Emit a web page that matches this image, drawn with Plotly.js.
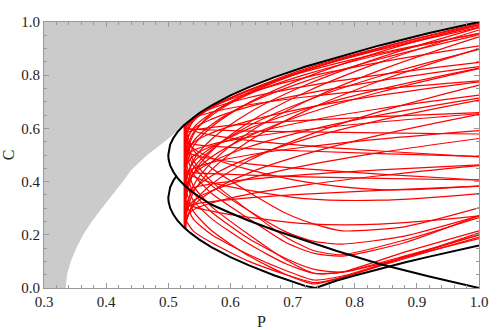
<!DOCTYPE html>
<html>
<head>
<meta charset="utf-8">
<script src="https://cdn.plot.ly/plotly-3.0.1.min.js"></script>
<style>
  body { margin: 0; background: #fff; }
  #myDiv { width: 500px; height: 330px; }
</style>
</head>
<body>
<div id="myDiv"></div>
<script>
var pGrid = [0.527, 0.54, 0.57, 0.63, 0.72, 0.84, 1.0];

// red curves, C value at each pGrid point
var redUpper = [
  [0.500, 0.582, 0.649, 0.731, 0.816, 0.902, 0.995],
  [0.440, 0.531, 0.606, 0.697, 0.791, 0.887, 0.990],
  [0.380, 0.479, 0.560, 0.659, 0.762, 0.866, 0.979],
  [0.320, 0.428, 0.516, 0.623, 0.735, 0.848, 0.970],
  [0.560, 0.626, 0.679, 0.745, 0.813, 0.882, 0.956],
  [0.270, 0.382, 0.473, 0.585, 0.700, 0.818, 0.944],
  [0.530, 0.601, 0.658, 0.729, 0.802, 0.877, 0.957],
  [0.470, 0.550, 0.615, 0.695, 0.777, 0.861, 0.952],
  [0.560, 0.630, 0.680, 0.744, 0.824, 0.903, 0.990],
  [0.600, 0.636, 0.681, 0.742, 0.818, 0.895, 0.980],
  [0.450, 0.575, 0.656, 0.736, 0.818, 0.898, 0.985]
];
var redRising = [
  [0.600, 0.641, 0.675, 0.716, 0.758, 0.801, 0.848],
  [0.580, 0.635, 0.679, 0.734, 0.791, 0.848, 0.910],
  [0.250, 0.358, 0.446, 0.553, 0.665, 0.778, 0.900],
  [0.360, 0.449, 0.521, 0.610, 0.702, 0.796, 0.897],
  [0.550, 0.597, 0.635, 0.682, 0.730, 0.779, 0.832],
  [0.350, 0.429, 0.493, 0.571, 0.653, 0.736, 0.825],
  [0.400, 0.471, 0.528, 0.599, 0.672, 0.747, 0.827],
  [0.610, 0.638, 0.661, 0.689, 0.718, 0.748, 0.779],
  [0.230, 0.318, 0.390, 0.479, 0.570, 0.663, 0.763],
  [0.500, 0.546, 0.583, 0.628, 0.676, 0.724, 0.775],
  [0.450, 0.496, 0.533, 0.578, 0.626, 0.674, 0.725],
  [0.300, 0.367, 0.422, 0.489, 0.559, 0.630, 0.706],
  [0.370, 0.427, 0.474, 0.531, 0.590, 0.650, 0.714],
  [0.580, 0.593, 0.604, 0.617, 0.630, 0.644, 0.659],
  [0.240, 0.308, 0.364, 0.433, 0.503, 0.575, 0.653],
  [0.490, 0.517, 0.540, 0.567, 0.595, 0.624, 0.655],
  [0.420, 0.449, 0.472, 0.500, 0.530, 0.560, 0.592],
  [0.280, 0.327, 0.365, 0.412, 0.460, 0.509, 0.562],
  [0.260, 0.293, 0.320, 0.353, 0.387, 0.422, 0.460],
  [0.360, 0.377, 0.391, 0.408, 0.426, 0.444, 0.463],
  [0.300, 0.314, 0.325, 0.339, 0.353, 0.367, 0.383]
];
var redFalling = [
  [0.600, 0.597, 0.594, 0.590, 0.587, 0.583, 0.579],
  [0.610, 0.591, 0.575, 0.555, 0.535, 0.515, 0.493],
  [0.550, 0.541, 0.533, 0.524, 0.515, 0.505, 0.495],
  [0.520, 0.501, 0.486, 0.467, 0.448, 0.428, 0.406],
  [0.440, 0.434, 0.430, 0.424, 0.418, 0.412, 0.406],
  [0.570, 0.526, 0.489, 0.445, 0.399, 0.370, 0.383],
  [0.450, 0.420, 0.396, 0.367, 0.336, 0.330, 0.355],
  [0.330, 0.307, 0.289, 0.266, 0.242, 0.240, 0.271]
];

// curves that run down towards the bottom corner and come back up
var bounceGrid = [0.527, 0.54, 0.57, 0.63, 0.69, 0.735, 0.78, 0.88, 1.0];
var redBounce = [
  [0.380, 0.290, 0.215, 0.120, 0.050, 0.015, 0.040, 0.110, 0.191],
  [0.450, 0.360, 0.285, 0.185, 0.110, 0.070, 0.060, 0.115, 0.207],
  [0.330, 0.260, 0.200, 0.125, 0.065, 0.030, 0.045, 0.115, 0.186],
  [0.520, 0.430, 0.355, 0.260, 0.170, 0.130, 0.120, 0.170, 0.272],
  [0.600, 0.520, 0.450, 0.360, 0.280, 0.240, 0.215, 0.230, 0.301],
  [0.260, 0.215, 0.170, 0.100, 0.050, 0.020, 0.040, 0.115, 0.200],
  [0.580, 0.480, 0.400, 0.290, 0.190, 0.140, 0.125, 0.180, 0.265],
  [0.550, 0.460, 0.385, 0.290, 0.210, 0.175, 0.165, 0.195, 0.271],
  [0.490, 0.385, 0.305, 0.200, 0.105, 0.055, 0.060, 0.135, 0.215],
  [0.410, 0.330, 0.260, 0.165, 0.090, 0.055, 0.060, 0.120, 0.200]
];

// red bundle at the left edge of the curves
var edgeP = [0.527, 0.527];
var edgeC = [0.224, 0.616];

// outer black curve
var outerP = [1.0, 0.92, 0.84, 0.77, 0.72, 0.67, 0.63, 0.6, 0.57, 0.55, 0.535, 0.525, 0.515,
              0.508, 0.503, 0.5005, 0.5, 0.5005, 0.503, 0.508, 0.515, 0.525, 0.535, 0.55,
              0.57, 0.6, 0.63, 0.67, 0.72, 0.77, 0.84, 0.92, 1.0];
var outerC = [1.0, 0.959, 0.912, 0.867, 0.832, 0.792, 0.755, 0.724, 0.687, 0.658, 0.632, 0.612, 0.587,
              0.563, 0.539, 0.516, 0.5, 0.484, 0.461, 0.437, 0.413, 0.388, 0.368, 0.342,
              0.313, 0.282, 0.253, 0.218, 0.178, 0.140, 0.090, 0.043, 0.0];

// inner black curve
var innerP = [0.513, 0.508, 0.503, 0.5005, 0.5, 0.5005, 0.503, 0.508, 0.515, 0.525, 0.535, 0.55,
              0.57, 0.6, 0.63, 0.67, 0.7, 0.72, 0.737, 0.77, 0.8, 0.84, 0.88, 0.92, 0.96, 1.0];
var innerC = [0.421, 0.403, 0.379, 0.356, 0.34, 0.324, 0.301, 0.277, 0.253, 0.228, 0.208, 0.182,
              0.153, 0.116, 0.085, 0.048, 0.024, 0.008, 0.0, 0.027, 0.047, 0.072, 0.096, 0.118, 0.14, 0.16];

// grey region boundary
var greyP = [0.3, 0.3, 0.335, 0.337, 0.343, 0.352, 0.363, 0.377, 0.393, 0.41, 0.427, 0.44,
             0.466, 0.494, 0.525, 0.535, 0.55, 0.57, 0.6, 0.63, 0.67, 0.72, 0.77, 0.84, 0.92, 1.0];
var greyC = [1.0, 0.0, 0.0, 0.05, 0.1, 0.15, 0.2, 0.25, 0.3, 0.35, 0.4, 0.443,
             0.5, 0.55, 0.612, 0.632, 0.658, 0.687, 0.724, 0.755, 0.792, 0.832, 0.867, 0.912, 0.959, 1.0];

var data = [];
data.push({
  x: greyP, y: greyC, type: 'scatter', mode: 'lines',
  fill: 'toself', fillcolor: '#cbcbcb', line: {width: 0}
});
data.push({
  x: edgeP, y: edgeC, type: 'scatter', mode: 'lines',
  line: {color: '#ff0000', width: 3}
});

var groups = [redUpper, redRising, redFalling];
for (var g = 0; g < groups.length; g++) {
  for (var i = 0; i < groups[g].length; i++) {
    data.push({
      x: pGrid, y: groups[g][i], type: 'scatter', mode: 'lines',
      line: {color: '#ff0000', width: 1.2, shape: 'spline', smoothing: 1}
    });
  }
}
for (var j = 0; j < redBounce.length; j++) {
  data.push({
    x: bounceGrid, y: redBounce[j], type: 'scatter', mode: 'lines',
    line: {color: '#ff0000', width: 1.2, shape: 'spline', smoothing: 0.6}
  });
}

data.push({
  x: outerP, y: outerC, type: 'scatter', mode: 'lines',
  line: {color: '#000', width: 2}
});
data.push({
  x: innerP, y: innerC, type: 'scatter', mode: 'lines',
  line: {color: '#000', width: 2}
});

var serif = 'Liberation Serif, Times New Roman, serif';

var axisCommon = {
  showgrid: false, zeroline: false,
  showline: true, linecolor: '#999', linewidth: 1, mirror: 'ticks',
  ticks: 'inside', ticklen: 5, tickcolor: '#999', tickwidth: 1,
  tickformat: '.1f',
  tickfont: {family: serif, size: 15, color: '#222'}
};

var layout = {
  width: 500, height: 330,
  font: {family: serif, size: 15, color: '#222'},
  showlegend: false,
  hovermode: false,
  paper_bgcolor: '#fff',
  plot_bgcolor: '#fff',
  margin: {l: 44, r: 21, t: 22, b: 42, pad: 0},
  xaxis: Object.assign({}, axisCommon, {
    range: [0.3, 1.0], dtick: 0.1, tick0: 0,
    minor: {ticks: 'inside', dtick: 0.02, ticklen: 3, tickcolor: '#999'},
    title: {text: 'P', standoff: 6, font: {family: serif, size: 16, color: '#222'}}
  }),
  yaxis: Object.assign({}, axisCommon, {
    range: [0, 1.0], dtick: 0.2, tick0: 0,
    minor: {ticks: 'inside', dtick: 0.05, ticklen: 3, tickcolor: '#999'},
    title: {text: 'C', standoff: 6, font: {family: serif, size: 16, color: '#222'}}
  })
};

Plotly.newPlot('myDiv', data, layout, {staticPlot: true});
</script>
</body>
</html>
